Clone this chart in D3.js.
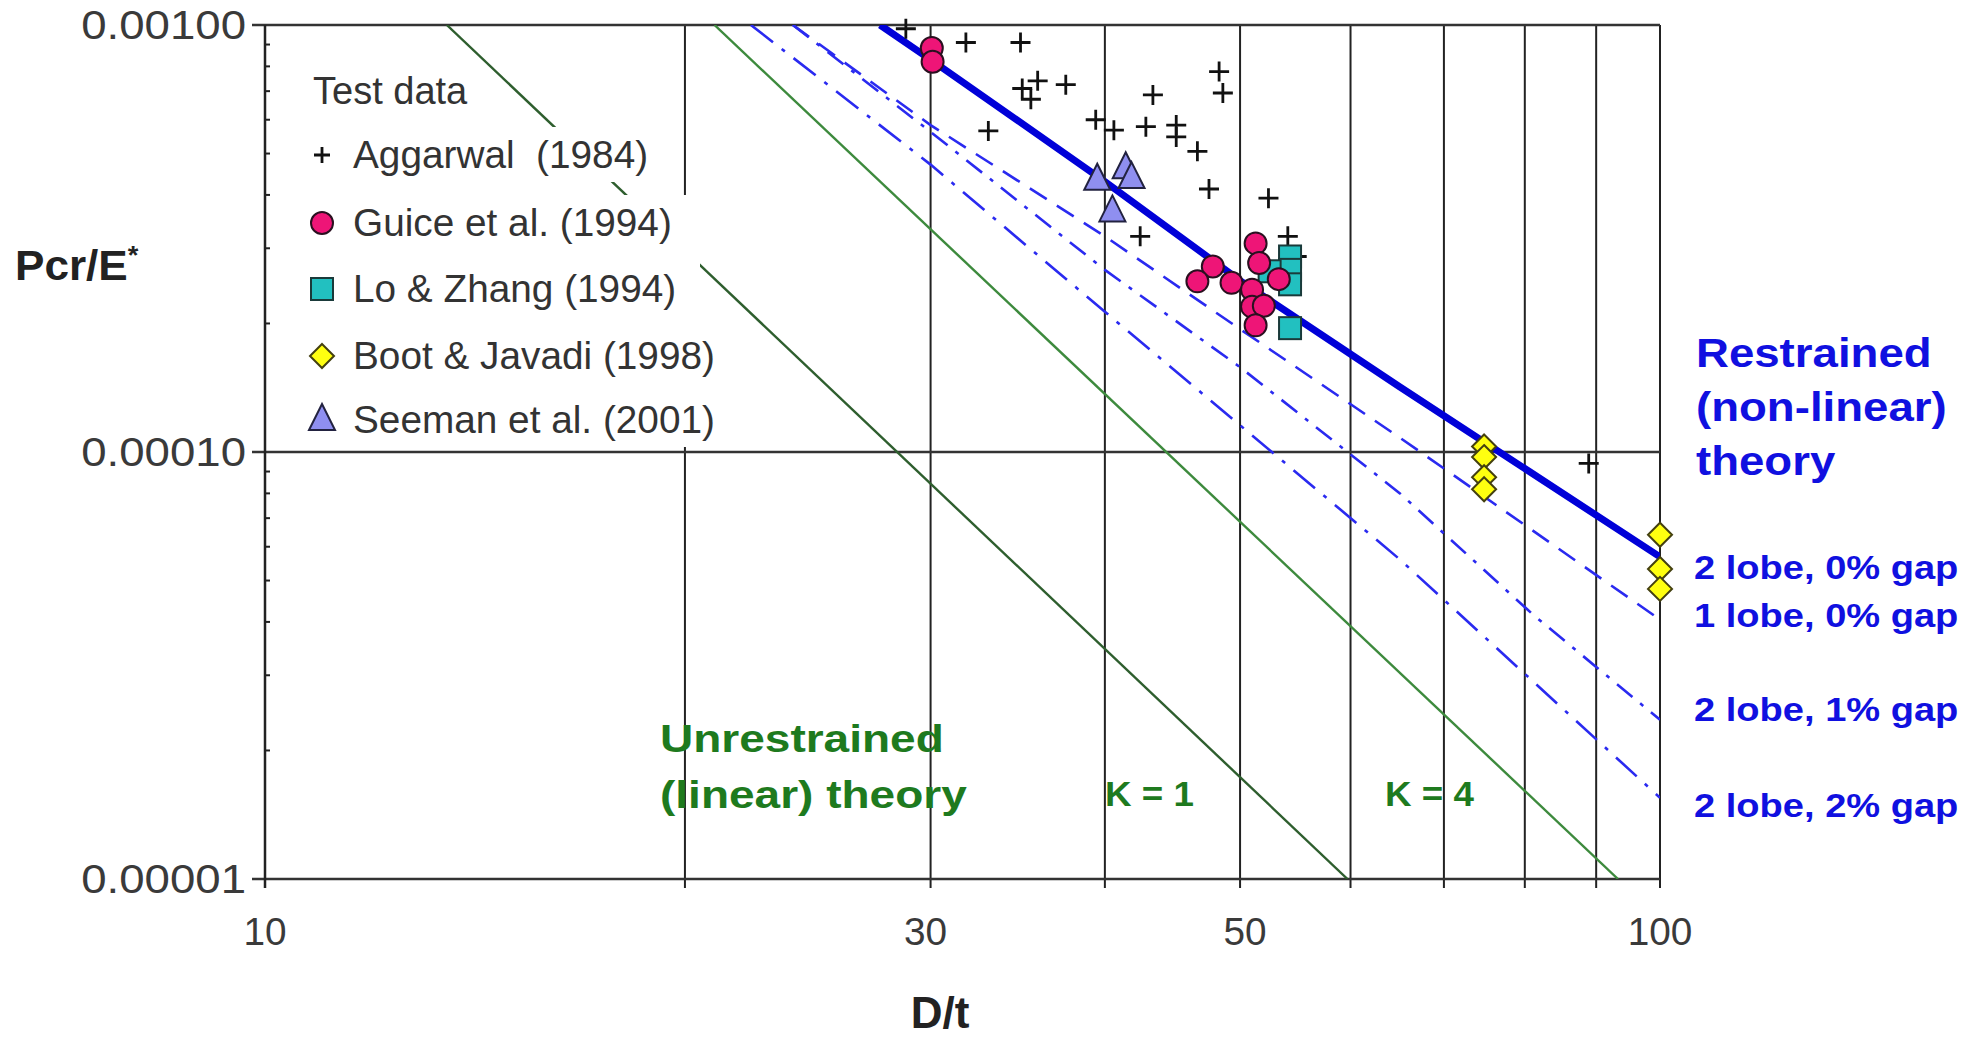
<!DOCTYPE html>
<html>
<head>
<meta charset="utf-8">
<script src="https://cdnjs.cloudflare.com/ajax/libs/d3/7.8.5/d3.min.js"></script>
<style>
  html, body { margin: 0; padding: 0; background: #fff; }
  svg { display: block; font-family: Arial, "Liberation Sans", sans-serif; }
  text { white-space: pre; }
</style>
</head>
<body>
<script>
// ---- data (D/t, Pcr/E*) ----
var aggarwal = [[28.8, 9.8e-4], [31.8, 9.1e-4], [34.8, 9.1e-4], [35.8, 7.4e-4], [37.5, 7.25e-4],
    [34.9, 7.1e-4], [35.4, 6.7e-4], [33.0, 5.65e-4], [39.4, 6.0e-4], [40.6, 5.67e-4], [42.8, 5.78e-4],
    [45.0, 5.83e-4], [45.0, 5.47e-4], [43.3, 6.86e-4], [48.3, 7.78e-4], [48.6, 6.93e-4], [46.6, 5.06e-4],
    [47.5, 4.13e-4], [52.4, 3.93e-4], [42.4, 3.2e-4], [54.1, 3.2e-4], [54.9, 2.87e-4], [88.9, 9.4e-5]];
var guice = [[30.06, 8.83e-4], [30.1, 8.2e-4], [51.3, 3.08e-4], [51.6, 2.77e-4], [47.8, 2.72e-4],
    [46.6, 2.51e-4], [49.3, 2.49e-4], [53.3, 2.54e-4], [51.0, 2.4e-4], [51.0, 2.19e-4], [52.0, 2.2e-4],
    [51.3, 1.98e-4]];
var loZhang = [[54.3, 2.87e-4], [54.3, 2.67e-4], [52.5, 2.65e-4], [54.3, 2.47e-4], [54.3, 1.95e-4]];
var bootJavadi = [[74.8, 1.03e-4], [74.8, 9.73e-5], [74.8, 8.73e-5], [74.8, 8.18e-5],
    [100, 6.4e-5], [100, 5.32e-5], [100, 4.78e-5]];
var seeman = [[39.5, 4.34e-4], [41.4, 4.62e-4], [41.8, 4.38e-4], [40.5, 3.66e-4]];

// theory curves
var linearK1 = [[13.5, 1e-3], [59.7, 1e-5]];
var linearK4 = [[21.0, 1e-3], [93.3, 1e-5]];
var lobe2gap0 = [[27.6, 1e-3], [30, 8.3e-4], [40, 4.3e-4], [50, 2.52e-4], [65.1, 1.42e-4], [100, 5.68e-5]];
var lobe1gap0 = [[23.9, 1e-3], [30, 5.83e-4], [40, 3.2e-4], [50, 1.94e-4], [65.1, 1.08e-4], [100, 4.05e-5]];
var lobe2gap1 = [[23.9, 1e-3], [30, 5.62e-4], [40, 2.67e-4], [50, 1.58e-4], [65.1, 8.0e-5], [81.1, 4.16e-5], [100, 2.36e-5]];
var lobe2gap2 = [[22.3, 1e-3], [30, 4.71e-4], [40, 2.13e-4], [65.1, 5.6e-5], [100, 1.55e-5]];

var xGrid = [20, 30, 40, 50, 60, 70, 80, 90, 100];
var yGrid = [1e-3, 1e-4, 1e-5];
var yTickLabels = ["0.00100", "0.00010", "0.00001"];
var xTickLabels = [[10, "10"], [30, "30"], [50, "50"], [100, "100"]];
var legendNames = ["Aggarwal  (1984)", "Guice et al. (1994)", "Lo & Zhang (1994)", "Boot & Javadi (1998)", "Seeman et al. (2001)"];
var curveNames = ["2 lobe, 0% gap", "1 lobe, 0% gap", "2 lobe, 1% gap", "2 lobe, 2% gap"];

var W = 1977, H = 1038;
var x = d3.scaleLog().domain([10, 100]).range([265, 1660]),
    y = d3.scaleLog().domain([1e-5, 1e-3]).range([879, 25]);

var svg = d3.select("body").append("svg")
    .attr("width", W)
    .attr("height", H);

var blue = "#1010e0", green = "#1e7a1e";

// stretched text helper (the figure's lettering is a little wide)
function label(t, px, py, opt) {
    opt = opt || {};
    var g = svg.append("g")
        .attr("transform", "translate(" + px + "," + py + ") scale(" + (opt.sx || 1) + ",1)");
    return g.append("text")
        .attr("text-anchor", opt.anchor || "start")
        .attr("dominant-baseline", "central")
        .attr("font-size", opt.size || 33)
        .attr("font-weight", opt.bold ? "bold" : "normal")
        .attr("fill", opt.fill || "#3a3a3a")
        .text(t);
}

// ---- grid ----
svg.selectAll(".vgrid").data(xGrid).enter().append("line")
    .attr("x1", function(d) { return x(d); })
    .attr("x2", function(d) { return x(d); })
    .attr("y1", y(1e-3))
    .attr("y2", y(1e-5) + 9)
    .attr("stroke", "#222")
    .attr("stroke-width", 2);

svg.selectAll(".hgrid").data(yGrid).enter().append("line")
    .attr("x1", x(10) - 13)
    .attr("x2", x(100))
    .attr("y1", function(d) { return y(d); })
    .attr("y2", function(d) { return y(d); })
    .attr("stroke", "#333")
    .attr("stroke-width", 2.5);

// left axis + minor ticks
svg.append("line")
    .attr("x1", x(10)).attr("x2", x(10))
    .attr("y1", y(1e-3)).attr("y2", y(1e-5) + 9)
    .attr("stroke", "#222").attr("stroke-width", 2.5);

var minor = [];
[1e-5, 1e-4].forEach(function(dec) {
    for (var k = 2; k <= 9; k++) minor.push(k * dec);
});
svg.selectAll(".ytick").data(minor).enter().append("line")
    .attr("x1", x(10))
    .attr("x2", x(10) + 5)
    .attr("y1", function(d) { return y(d); })
    .attr("y2", function(d) { return y(d); })
    .attr("stroke", "#222")
    .attr("stroke-width", 2);

// ---- tick labels ----
yGrid.forEach(function(v, i) {
    label(yTickLabels[i], 246, y(v), { anchor: "end", sx: 1.14, size: 40 });
});
var xShift = { 10: 0, 30: -5, 50: 5, 100: 0 };
xTickLabels.forEach(function(t) {
    label(t[1], x(t[0]) + xShift[t[0]], 932, { anchor: "middle", sx: 1.02, size: 38 });
});

label("D/t", 940, 1012, { anchor: "middle", bold: true, size: 44, fill: "#222" });
var ylab = label("Pcr/E", 15, 265, { bold: true, size: 42, fill: "#222", sx: 1.05 });
ylab.append("tspan").attr("font-size", 26).attr("dy", -10).text("*");

// ---- theory lines ----
var line = d3.line()
    .x(function(d) { return x(d[0]); })
    .y(function(d) { return y(d[1]); });

svg.append("defs").append("clipPath").attr("id", "plot")
    .append("rect")
    .attr("x", x(10)).attr("y", y(1e-3))
    .attr("width", x(100) - x(10)).attr("height", y(1e-5) - y(1e-3));

var curves = svg.append("g").attr("clip-path", "url(#plot)");

curves.append("path").datum(linearK1)
    .attr("d", line).attr("fill", "none")
    .attr("stroke", "#2e5e2e").attr("stroke-width", 2.4);
curves.append("path").datum(linearK4)
    .attr("d", line).attr("fill", "none")
    .attr("stroke", "#3d8a3d").attr("stroke-width", 2.4);

// legend boxes sit over the K = 1 line
svg.append("rect").attr("x", 340).attr("y", 127).attr("width", 320).attr("height", 55).attr("fill", "#fff");
svg.append("rect").attr("x", 305).attr("y", 195).attr("width", 395).attr("height", 252).attr("fill", "#fff");

var dashed = [
    { data: lobe1gap0, dash: "20,12" },
    { data: lobe2gap1, dash: "20,10,4,10" },
    { data: lobe2gap2, dash: "28,11,4,11" }
];
dashed.forEach(function(c) {
    curves.append("path").datum(c.data)
        .attr("d", line).attr("fill", "none")
        .attr("stroke", "#2a2af0")
        .attr("stroke-width", 2.6)
        .attr("stroke-dasharray", c.dash);
});
curves.append("path").datum(lobe2gap0)
    .attr("d", line).attr("fill", "none")
    .attr("stroke", "#0000d8").attr("stroke-width", 7);

// ---- markers ----
function plus(sel, s) {
    sel.append("path")
        .attr("d", "M" + (-s) + ",0H" + s + "M0," + (-s) + "V" + s)
        .attr("stroke", "#111").attr("stroke-width", 2.8).attr("fill", "none");
}
function circle(sel) {
    sel.append("circle").attr("r", 11)
        .attr("fill", "#ee1577").attr("stroke", "#2a1020").attr("stroke-width", 2);
}
function square(sel) {
    sel.append("rect").attr("x", -11).attr("y", -11).attr("width", 22).attr("height", 22)
        .attr("fill", "#22c0c0").attr("stroke", "#1a3a3a").attr("stroke-width", 2);
}
function diamond(sel) {
    sel.append("path").attr("d", "M0,-12L12,0L0,12L-12,0Z")
        .attr("fill", "#ffff10").attr("stroke", "#444010").attr("stroke-width", 2);
}
function triangle(sel) {
    sel.append("path").attr("d", "M0,-16L13,10L-13,10Z")
        .attr("fill", "#8f8ff0").attr("stroke", "#222240").attr("stroke-width", 2);
}

function scatter(data, draw) {
    svg.append("g").selectAll("g").data(data).enter().append("g")
        .attr("transform", function(d) { return "translate(" + x(d[0]) + "," + y(d[1]) + ")"; })
        .each(function() { draw(d3.select(this), 10); });
}
scatter(aggarwal, plus);
scatter(seeman, triangle);
scatter(loZhang, square);
scatter(guice, circle);
scatter(bootJavadi, diamond);

// ---- legend ----
label("Test data", 313, 91, { size: 38, fill: "#333" });
var legendY = [155, 223, 289, 356, 420];
var legendDraw = [plus, circle, square, diamond, triangle];
legendNames.forEach(function(n, i) {
    var g = svg.append("g").attr("transform", "translate(322," + legendY[i] + ")");
    legendDraw[i](g, 8);
    label(n, 353, legendY[i], { size: 38, fill: "#333", sx: 1.02 });
});

// ---- annotations ----
label("Unrestrained", 660, 738, { bold: true, size: 39, fill: green, sx: 1.18 });
label("(linear) theory", 660, 794, { bold: true, size: 39, fill: green, sx: 1.18 });
label("K = 1", 1105, 794, { bold: true, size: 35, fill: green, sx: 1.05 });
label("K = 4", 1385, 794, { bold: true, size: 35, fill: green, sx: 1.05 });

["Restrained", "(non-linear)", "theory"].forEach(function(t, i) {
    label(t, 1696, 353 + i * 54, { bold: true, size: 40, fill: blue, sx: 1.14 });
});
var curveY = [567, 615, 709, 805];
curveNames.forEach(function(t, i) {
    label(t, 1694, curveY[i], { bold: true, size: 34, fill: blue, sx: 1.12 });
});
</script>
</body>
</html>
